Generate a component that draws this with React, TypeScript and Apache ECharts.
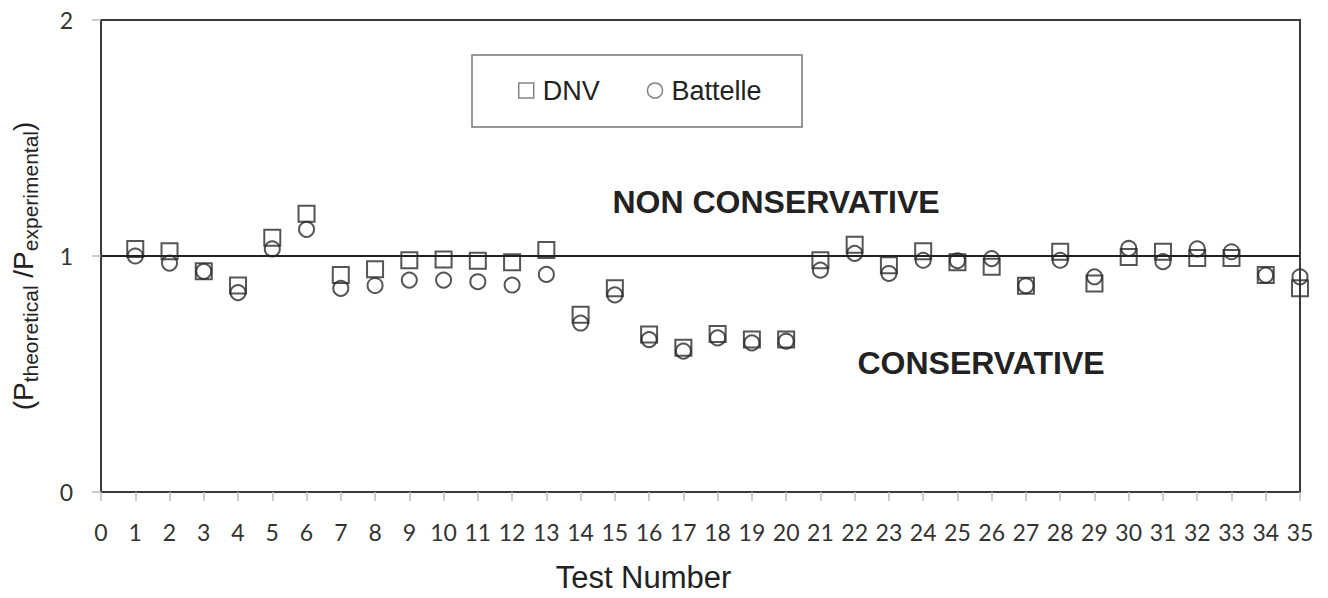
import React, { useEffect, useRef } from "react";
import * as echarts from "echarts";

const testNumbers = [
  1, 2, 3, 4, 5, 6, 7, 8, 9, 10, 11, 12, 13, 14, 15, 16, 17, 18, 19, 20,
  21, 22, 23, 24, 25, 26, 27, 28, 29, 30, 31, 32, 33, 34, 35,
];
const dnvValues = [
  1.03, 1.02, 0.935, 0.875, 1.077, 1.179, 0.919, 0.944, 0.982, 0.985, 0.98,
  0.973, 1.025, 0.751, 0.863, 0.667, 0.611, 0.669, 0.646, 0.646, 0.982, 1.048,
  0.961, 1.02, 0.973, 0.954, 0.874, 1.018, 0.884, 0.996, 1.018, 0.992, 0.992,
  0.919, 0.863,
];
const battelleValues = [
  1.0, 0.97, 0.935, 0.845, 1.03, 1.113, 0.863, 0.875, 0.898, 0.898, 0.891,
  0.877, 0.922, 0.716, 0.835, 0.646, 0.597, 0.653, 0.632, 0.639, 0.94, 1.011,
  0.926, 0.982, 0.98, 0.989, 0.874, 0.982, 0.912, 1.032, 0.976, 1.03, 1.018,
  0.919, 0.912,
];
const referenceValue = 1;
const regionLabels = ["NON CONSERVATIVE", "CONSERVATIVE"];

export default function App() {
  const ref = useRef<HTMLDivElement>(null);

  useEffect(() => {
    if (!ref.current) return;
    const chart = echarts.init(ref.current, undefined, { renderer: "svg" });
    const markerStyle = {
      color: "transparent",
      borderColor: "#2a2a2a",
      borderWidth: 2,
    };
    chart.setOption({
      animation: false,
      backgroundColor: "#fff",
      grid: {
        left: 101,
        right: 28,
        top: 20,
        bottom: 102,
        show: true,
        borderColor: "#3a3a3a",
        borderWidth: 2,
      },
      legend: {
        left: 518,
        top: 77,
        padding: 0,
        itemWidth: 15,
        itemHeight: 15,
        itemGap: 47,
        textStyle: {
          fontSize: 27,
          fontFamily: "Liberation Sans, Arial, sans-serif",
          color: "#222",
          padding: [0, 0, 0, 4],
        },
        data: [
          {
            name: "DNV",
            icon: "rect",
            itemStyle: { color: "transparent", borderColor: "#666", borderWidth: 1.5 },
          },
          {
            name: "Battelle",
            icon: "circle",
            itemStyle: { color: "transparent", borderColor: "#666", borderWidth: 1.5 },
          },
        ],
      },
      xAxis: {
        type: "value",
        min: 0,
        max: 35,
        interval: 1,
        name: "Test Number",
        nameLocation: "middle",
        nameGap: 70,
        nameTextStyle: {
          fontSize: 31,
          fontFamily: "Liberation Sans, Arial, sans-serif",
          color: "#222",
          padding: [0, 114, 0, 0],
        },
        axisLine: { show: true, lineStyle: { color: "#3a3a3a", width: 2 } },
        axisTick: { show: true, length: 9, lineStyle: { color: "#bbb", width: 1.5 } },
        axisLabel: {
          margin: 28,
          fontSize: 23,
          fontFamily: "Lato, sans-serif",
          color: "#333",
        },
        splitLine: { show: false },
      },
      yAxis: {
        type: "value",
        min: 0,
        max: 2,
        interval: 1,
        name: "(P{sub|theoretical} /P{sub|experimental})",
        nameLocation: "middle",
        nameGap: 60,
        nameTextStyle: {
          fontSize: 28,
          fontFamily: "Liberation Sans, Arial, sans-serif",
          color: "#222",
          padding: [0, 20, 0, 0],
          rich: {
            sub: {
              fontSize: 21,
              fontFamily: "Liberation Sans, Arial, sans-serif",
              color: "#222",
              verticalAlign: "bottom",
              padding: [14, 0, 0, 0],
            },
          },
        },
        axisLine: { show: true, lineStyle: { color: "#3a3a3a", width: 2 } },
        axisTick: { show: true, length: 9, lineStyle: { color: "#bbb", width: 1.5 } },
        axisLabel: {
          margin: 28,
          fontSize: 23,
          fontFamily: "Lato, sans-serif",
          color: "#333",
        },
        splitLine: { show: false },
      },
      graphic: [
        {
          type: "rect",
          shape: { x: 472, y: 55, width: 330, height: 72 },
          style: { fill: "none", stroke: "#777", lineWidth: 1.5 },
          z: 100,
        },
        {
          type: "text",
          x: 776,
          y: 202,
          style: {
            text: regionLabels[0],
            fontSize: 32,
            fontWeight: "bold",
            fontFamily: "Liberation Sans, Arial, sans-serif",
            fill: "#222",
            align: "center",
            verticalAlign: "middle",
          },
        },
        {
          type: "text",
          x: 981,
          y: 363,
          style: {
            text: regionLabels[1],
            fontSize: 32,
            fontWeight: "bold",
            fontFamily: "Liberation Sans, Arial, sans-serif",
            fill: "#222",
            align: "center",
            verticalAlign: "middle",
          },
        },
      ],
      series: [
        {
          name: "DNV",
          type: "scatter",
          symbol: "rect",
          symbolSize: 16,
          itemStyle: markerStyle,
          data: testNumbers.map((t, i) => [t, dnvValues[i]]),
          markLine: {
            silent: true,
            symbol: ["none", "none"],
            label: { show: false },
            lineStyle: { color: "#222", width: 2, type: "solid" },
            data: [{ yAxis: referenceValue }],
          },
        },
        {
          name: "Battelle",
          type: "scatter",
          symbol: "circle",
          symbolSize: 15,
          itemStyle: markerStyle,
          data: testNumbers.map((t, i) => [t, battelleValues[i]]),
        },
      ],
    });
    return () => chart.dispose();
  }, []);

  return (
    <div
      ref={ref}
      style={{ position: "absolute", left: 0, top: 0, width: 1328, height: 598 }}
    />
  );
}
